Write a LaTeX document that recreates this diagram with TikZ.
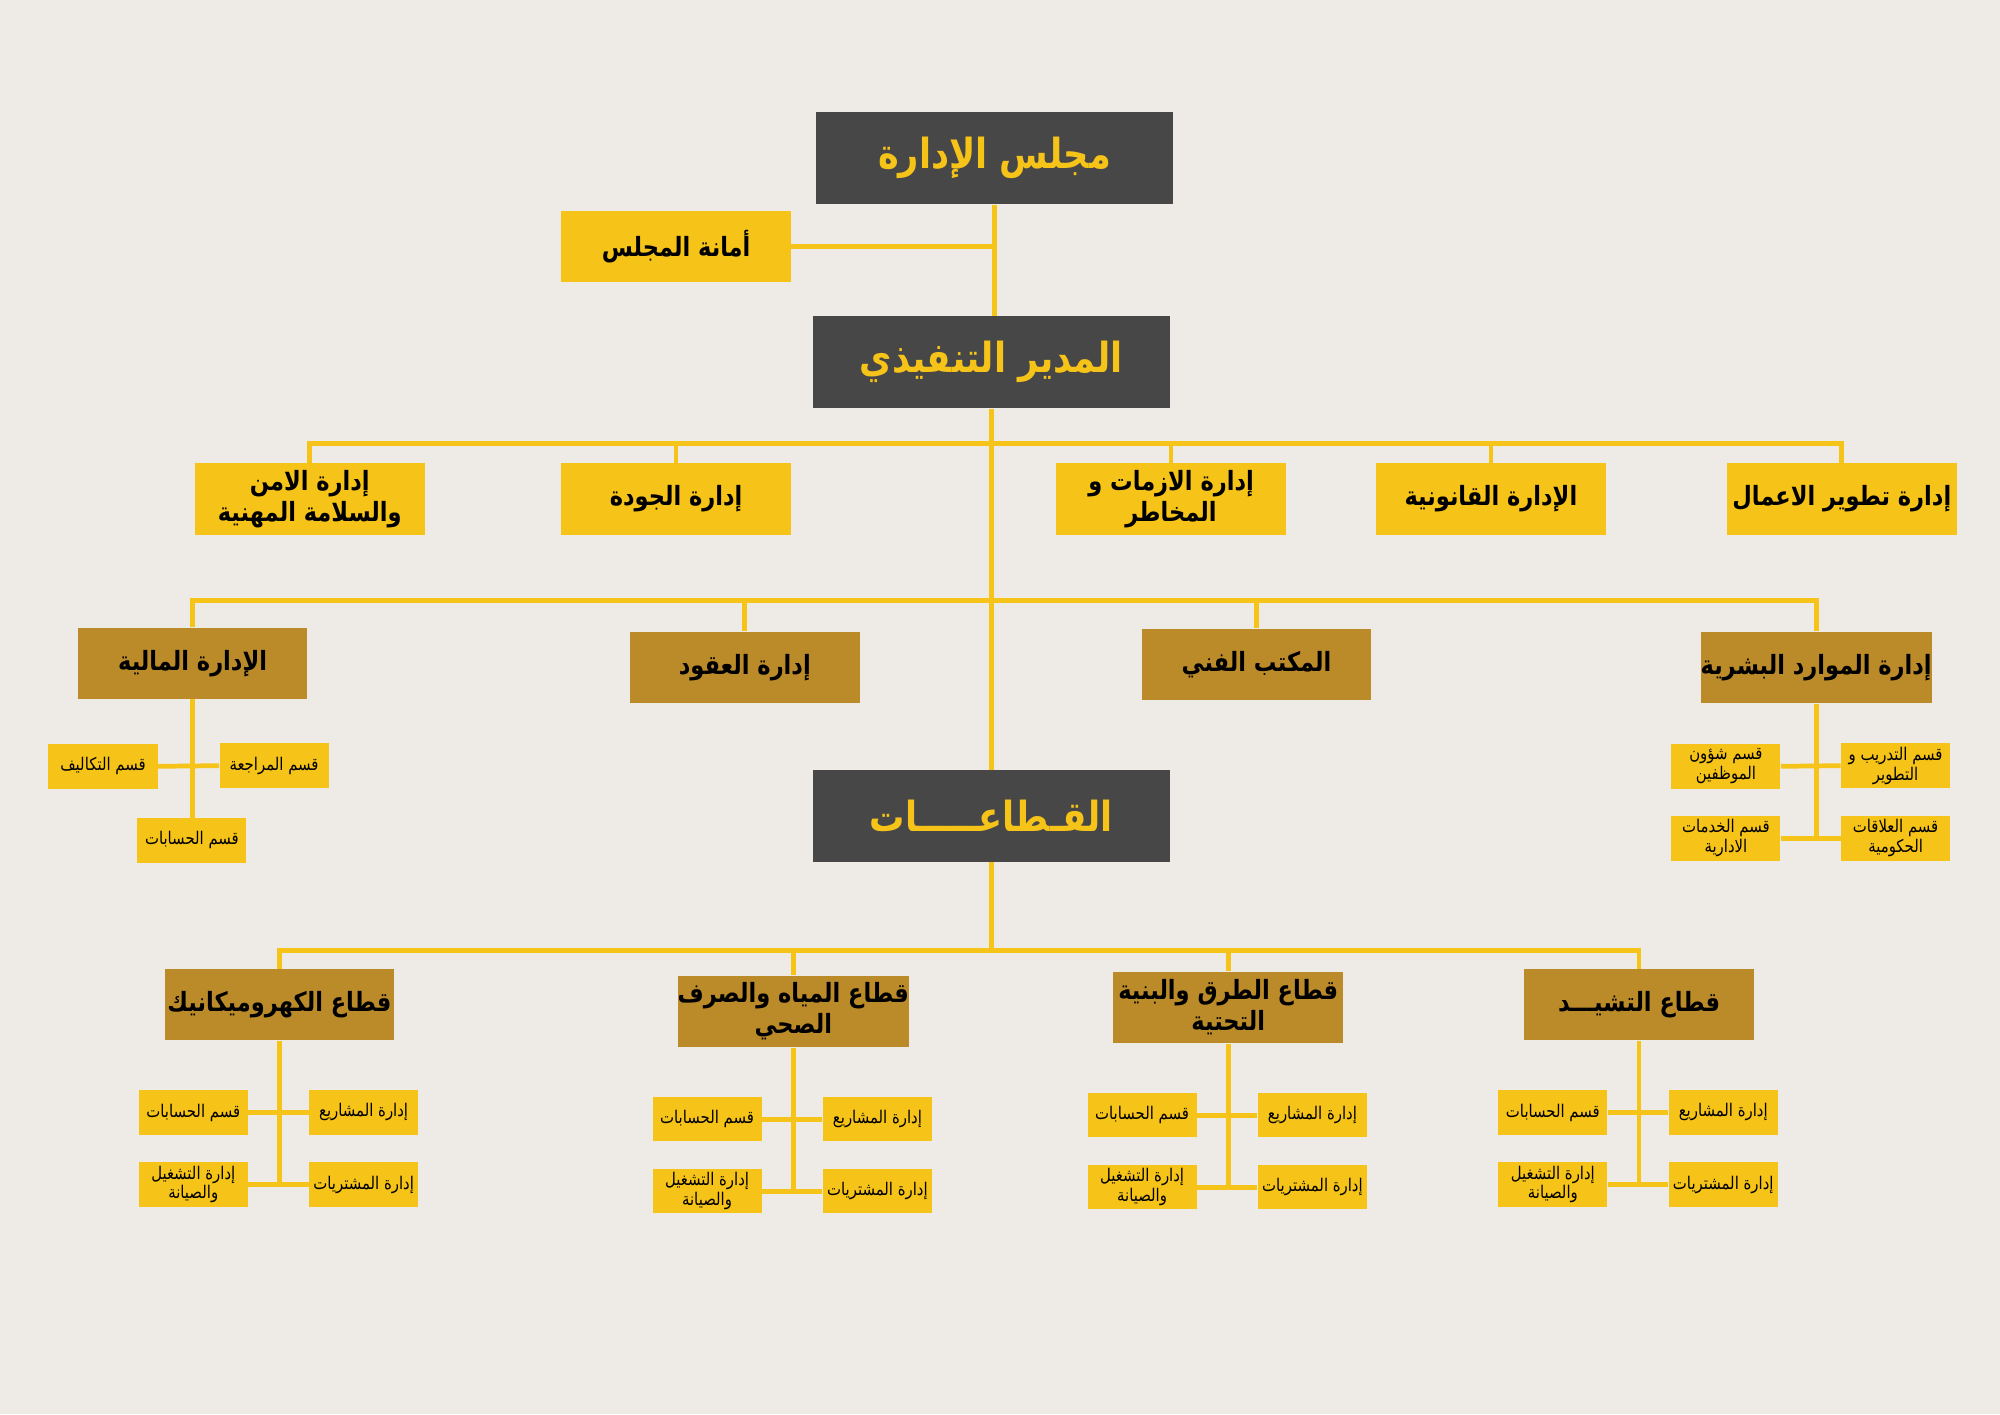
\documentclass[tikz,border=0pt]{standalone}
\usepackage{fontspec}
\newfontfamily\arabicfont[Script=Arabic,FakeStretch=0.85]{DejaVu Sans}
\TeXXeTstate=1
\newcommand{\artext}[1]{\beginR #1\endR}

\definecolor{bgcol}{RGB}{238,235,231}
\definecolor{darkgrey}{RGB}{71,71,71}
\definecolor{yelfill}{RGB}{246,195,24}
\definecolor{goldfill}{RGB}{188,139,41}

\tikzset{
    basebox/.style={rectangle,inner sep=0pt,align=center},
    headbox/.style={basebox,fill=darkgrey,text=yelfill,minimum width=5.3cm,minimum height=1.36cm,
        font=\arabicfont\bfseries\fontsize{17.5}{21}\selectfont},
    deptbox/.style={basebox,fill=yelfill,minimum width=3.41cm,minimum height=1.06cm,
        font=\arabicfont\bfseries\fontsize{11.2}{13}\selectfont},
    unitbox/.style={deptbox,fill=goldfill},
    subbox/.style={basebox,fill=yelfill,minimum width=1.62cm,minimum height=0.66cm,
        font=\arabicfont\fontsize{7.4}{8.4}\selectfont},
    link/.style={draw=yelfill,line width=2pt}
}

\begin{document}
\begin{tikzpicture}
    \useasboundingbox (0,0) rectangle (29.7,21);
    \fill[bgcol] (0,0) rectangle (29.7,21);

    % top of the chart
    \node[headbox] (board) at (14.77,18.65) {\artext{مجلس الإدارة}};
    \node[deptbox] (secr) at (10.04,17.34) {\artext{أمانة المجلس}};
    \node[headbox] (ceo) at (14.72,15.62) {\artext{المدير التنفيذي}};
    \draw[link] (board.south) -- (board.south |- ceo.north);
    \draw[link] (secr.east) -- (secr.east -| board.south);

    % first row of departments
    \coordinate (barA) at (0,14.41);
    \node[deptbox] (safety) at (4.60,13.59) {\artext{إدارة الامن}\\\artext{والسلامة المهنية}};
    \node[deptbox] (quality) at (10.04,13.59) {\artext{إدارة الجودة}};
    \node[deptbox] (crisis) at (17.39,13.59) {\artext{إدارة الازمات و}\\\artext{المخاطر}};
    \node[deptbox] (legal) at (22.14,13.59) {\artext{الإدارة القانونية}};
    \node[deptbox] (busdev) at (27.35,13.59) {\artext{إدارة تطوير الاعمال}};
    \draw[link] (safety.north) |- (barA -| busdev.north) -- (busdev.north);
    \draw[link] (quality.north) -- (quality.north |- barA);
    \draw[link] (crisis.north) -- (crisis.north |- barA);
    \draw[link] (legal.north) -- (legal.north |- barA);

    % second row
    \coordinate (barB) at (0,12.08);
    \node[unitbox] (finance) at (2.86,11.15) {\artext{الإدارة المالية}};
    \node[unitbox] (contracts) at (11.06,11.09) {\artext{إدارة العقود}};
    \node[unitbox] (techoff) at (18.66,11.13) {\artext{المكتب الفني}};
    \node[unitbox] (hr) at (26.97,11.09) {\artext{إدارة الموارد البشرية}};
    \draw[link] (finance.north) |- (barB -| hr.north) -- (hr.north);
    \draw[link] (contracts.north) -- (contracts.north |- barB);
    \draw[link] (techoff.north) -- (techoff.north |- barB);

    % finance sections
    \node[subbox] (fcost) at (1.53,9.62) {\artext{قسم التكاليف}};
    \node[subbox] (faudit) at (4.07,9.63) {\artext{قسم المراجعة}};
    \node[subbox] (facc) at (2.85,8.52) {\artext{قسم الحسابات}};
    \draw[link] (finance.south) -- (finance.south |- facc.north);
    \draw[link] (fcost.east) -- (faudit.west);

    % hr sections
    \node[subbox] (hstaff) at (25.63,9.62) {\artext{قسم شؤون}\\\artext{الموظفين}};
    \node[subbox] (htrain) at (28.15,9.63) {\artext{قسم التدريب و}\\\artext{التطوير}};
    \node[subbox] (hserv) at (25.63,8.55) {\artext{قسم الخدمات}\\\artext{الادارية}};
    \node[subbox] (hgov) at (28.15,8.55) {\artext{قسم العلاقات}\\\artext{الحكومية}};
    \draw[link] (hr.south) -- (hr.south |- hserv.east);
    \draw[link] (hstaff.east) -- (htrain.west);
    \draw[link] (hserv.east) -- (hgov.west);

    % sectors
    \node[headbox] (sectors) at (14.72,8.88) {\artext{القـطاعـــــات}};
    \draw[link] (ceo.south) -- (sectors.north);
    \coordinate (barC) at (0,6.89);
    \foreach \nm/\x/\y/\txt in {
        elec/4.15/6.08/{\artext{قطاع الكهروميكانيك}},
        water/11.78/5.98/{\artext{قطاع المياه والصرف}\\\artext{الصحي}},
        roads/18.24/6.04/{\artext{قطاع الطرق والبنية}\\\artext{التحتية}},
        build/24.34/6.08/{\artext{قطاع التشيـــد}}}{
        \node[unitbox] (\nm) at (\x,\y) {\txt};
        \node[subbox] (\nm-acc) at (\x-1.28,\y-1.6) {\artext{قسم الحسابات}};
        \node[subbox] (\nm-prj) at (\x+1.25,\y-1.6) {\artext{إدارة المشاريع}};
        \node[subbox] (\nm-ops) at (\x-1.28,\y-2.67) {\artext{إدارة التشغيل}\\\artext{والصيانة}};
        \node[subbox] (\nm-buy) at (\x+1.25,\y-2.67) {\artext{إدارة المشتريات}};
        \draw[link] (\nm.south) -- (\nm.south |- \nm-ops.east);
        \draw[link] (\nm-acc.east) -- (\nm-prj.west);
        \draw[link] (\nm-ops.east) -- (\nm-buy.west);
    }
    \draw[link] (sectors.south) -- (sectors.south |- barC);
    \draw[link] (elec.north) |- (barC -| build.north) -- (build.north);
    \draw[link] (water.north) -- (water.north |- barC);
    \draw[link] (roads.north) -- (roads.north |- barC);
\end{tikzpicture}
\end{document}
